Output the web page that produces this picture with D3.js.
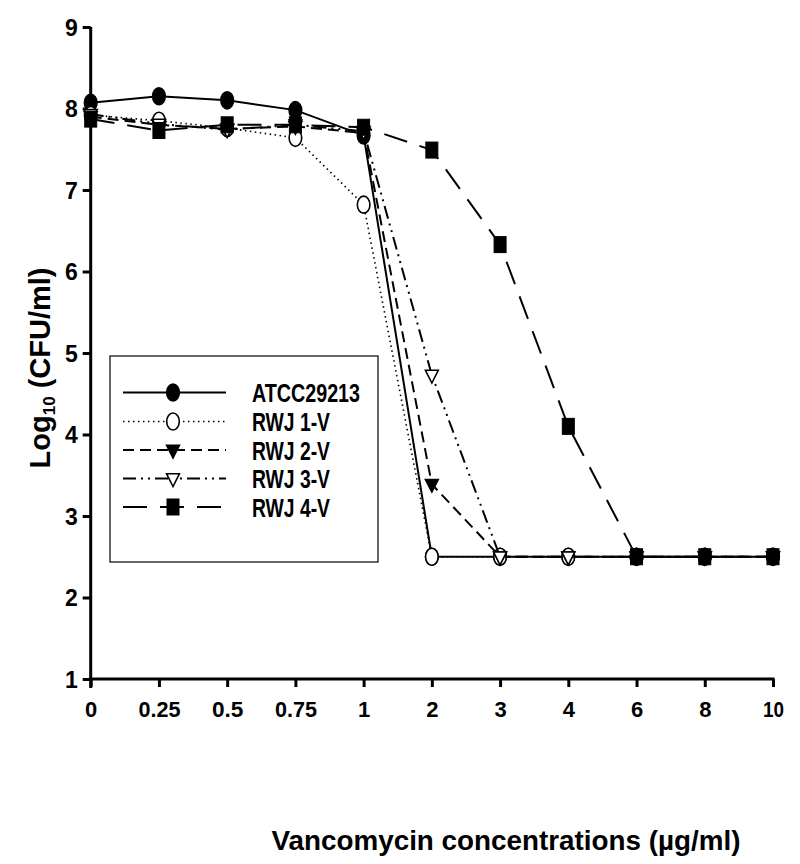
<!DOCTYPE html>
<html>
<head>
<meta charset="utf-8">
<script src="https://cdn.jsdelivr.net/npm/d3@7"></script>
<style>
  html, body { margin: 0; padding: 0; background: #fff; }
  svg { display: block; font-family: Arial, "Liberation Sans", sans-serif; }
</style>
</head>
<body>
<svg id="chart" width="800" height="864"></svg>
<script>
// ---- data ----
const concentrations = ["0", "0.25", "0.5", "0.75", "1", "2", "3", "4", "6", "8", "10"];
const yTicks = [1, 2, 3, 4, 5, 6, 7, 8, 9];
const seriesNames = ["ATCC29213", "RWJ 1-V", "RWJ 2-V", "RWJ 3-V", "RWJ 4-V"];
const atcc29213 = [8.07, 8.15, 8.10, 7.98, 7.67, 2.5, 2.5, 2.5, 2.5, 2.5, 2.5];
const rwj1v     = [7.92, 7.85, 7.76, 7.64, 6.82, 2.5, 2.5, 2.5, 2.5, 2.5, 2.5];
const rwj2v     = [7.90, 7.80, 7.75, 7.78, 7.70, 3.39, 2.5, 2.5, 2.5, 2.5, 2.5];
const rwj3v     = [7.93, 7.81, 7.74, 7.80, 7.72, 4.73, 2.5, 2.5, 2.5, 2.5, 2.5];
const rwj4v     = [7.87, 7.73, 7.80, 7.80, 7.77, 7.49, 6.33, 4.10, 2.5, 2.5, 2.5];
const seriesValues = [atcc29213, rwj1v, rwj2v, rwj3v, rwj4v];

// ---- styles ----
const styles = [
  { dash: null,               width: 2,   marker: "circle",   fill: "#000" },
  { dash: "1.5,3.5",          width: 1.6, marker: "circle",   fill: "#fff" },
  { dash: "11,6",             width: 2,   marker: "triDown",  fill: "#000" },
  { dash: "13,5,2,5,2,5",     width: 2,   marker: "triDown",  fill: "#fff" },
  { dash: "24,13",            width: 2,   marker: "square",   fill: "#000" }
];

const svg = d3.select("#chart");
const x = d3.scalePoint().domain(concentrations).range([90.7, 773]);
const y = d3.scaleLinear().domain([1, 9]).range([679, 27]);

function drawMarker(g, type, fill, cx, cy) {
  if (type === "circle") {
    g.append("ellipse").attr("cx", cx).attr("cy", cy).attr("rx", 6.3).attr("ry", 8.5)
      .attr("fill", fill).attr("stroke", "#000").attr("stroke-width", 1.6);
  } else if (type === "square") {
    g.append("rect").attr("x", cx - 6).attr("y", cy - 8).attr("width", 12).attr("height", 16)
      .attr("fill", fill).attr("stroke", "#000").attr("stroke-width", 1);
  } else if (type === "triDown") {
    const w = 6.5, h = 8;
    g.append("path").attr("d", `M${cx - w},${cy - h * 0.6}L${cx + w},${cy - h * 0.6}L${cx},${cy + h * 1.0}Z`)
      .attr("fill", fill).attr("stroke", "#000").attr("stroke-width", 1.5).attr("stroke-linejoin", "miter");
  }
}

// ---- axes ----
const yAxis = d3.axisLeft(y).tickValues(yTicks).tickSize(8).tickPadding(5).tickFormat(d3.format("d"));
const gy = svg.append("g").attr("transform", "translate(90.7,0)").call(yAxis);
gy.select(".domain").attr("d", "M0,27V688").attr("stroke", "#000").attr("stroke-width", 3);
gy.selectAll(".tick line").attr("stroke", "#000").attr("stroke-width", 3);
gy.selectAll(".tick text").attr("font-size", 23).attr("font-weight", "bold").attr("fill", "#000")
  .attr("dy", "0.36em");

const xAxis = d3.axisBottom(x).tickSize(8).tickPadding(14);
const gx = svg.append("g").attr("transform", "translate(0,679)").call(xAxis);
gx.select(".domain").attr("d", "M89.2,0H774.5").attr("stroke", "#000").attr("stroke-width", 3);
gx.selectAll(".tick line").attr("stroke", "#000").attr("stroke-width", 3);
gx.selectAll(".tick text").attr("font-size", 22).attr("font-weight", "bold").attr("fill", "#000")
  .attr("textLength", d => d.length > 1 ? d.length * 10.5 : null).attr("lengthAdjust", "spacingAndGlyphs");

// ---- series ----
const line = d3.line().x((d, i) => x(concentrations[i])).y(d => y(d));
seriesValues.forEach((vals, s) => {
  const st = styles[s];
  const g = svg.append("g");
  g.append("path").datum(vals).attr("d", line).attr("fill", "none")
    .attr("stroke", "#000").attr("stroke-width", st.width)
    .attr("stroke-dasharray", st.dash);
  vals.forEach((v, i) => drawMarker(g, st.marker, st.fill, x(concentrations[i]), y(v)));
});

// ---- legend ----
const lg = svg.append("g");
lg.append("rect").attr("x", 110).attr("y", 356).attr("width", 268).attr("height", 206)
  .attr("fill", "#fff").attr("stroke", "#000").attr("stroke-width", 1.2);
const rowY = [392.5, 421.5, 450, 478.5, 507];
const textLens = [108, 78, 78, 78, 78];
seriesNames.forEach((name, s) => {
  const st = styles[s];
  const g = lg.append("g");
  g.append("line").attr("x1", 123).attr("x2", 226).attr("y1", rowY[s]).attr("y2", rowY[s])
    .attr("stroke", "#000").attr("stroke-width", st.width).attr("stroke-dasharray", st.dash);
  drawMarker(g, st.marker, st.fill, 173, rowY[s]);
  g.append("text").attr("x", 252).attr("y", rowY[s] + 9.5).text(name)
    .attr("font-size", 26).attr("font-weight", "bold").attr("fill", "#000")
    .attr("textLength", textLens[s]).attr("lengthAdjust", "spacingAndGlyphs");
});

// ---- axis titles ----
const yt = svg.append("text").attr("transform", "translate(50,368) rotate(-90)")
  .attr("text-anchor", "middle").attr("font-size", 29).attr("font-weight", "bold").attr("fill", "#000");
yt.append("tspan").text("Log");
yt.append("tspan").text("10").attr("font-size", 17).attr("dy", 5);
yt.append("tspan").text(" (CFU/ml)").attr("dy", -5);

svg.append("text").attr("x", 506).attr("y", 850).attr("text-anchor", "middle")
  .attr("font-size", 28).attr("font-weight", "bold").attr("fill", "#000")
  .attr("textLength", 469).attr("lengthAdjust", "spacingAndGlyphs")
  .text("Vancomycin concentrations (µg/ml)");
</script>
</body>
</html>
